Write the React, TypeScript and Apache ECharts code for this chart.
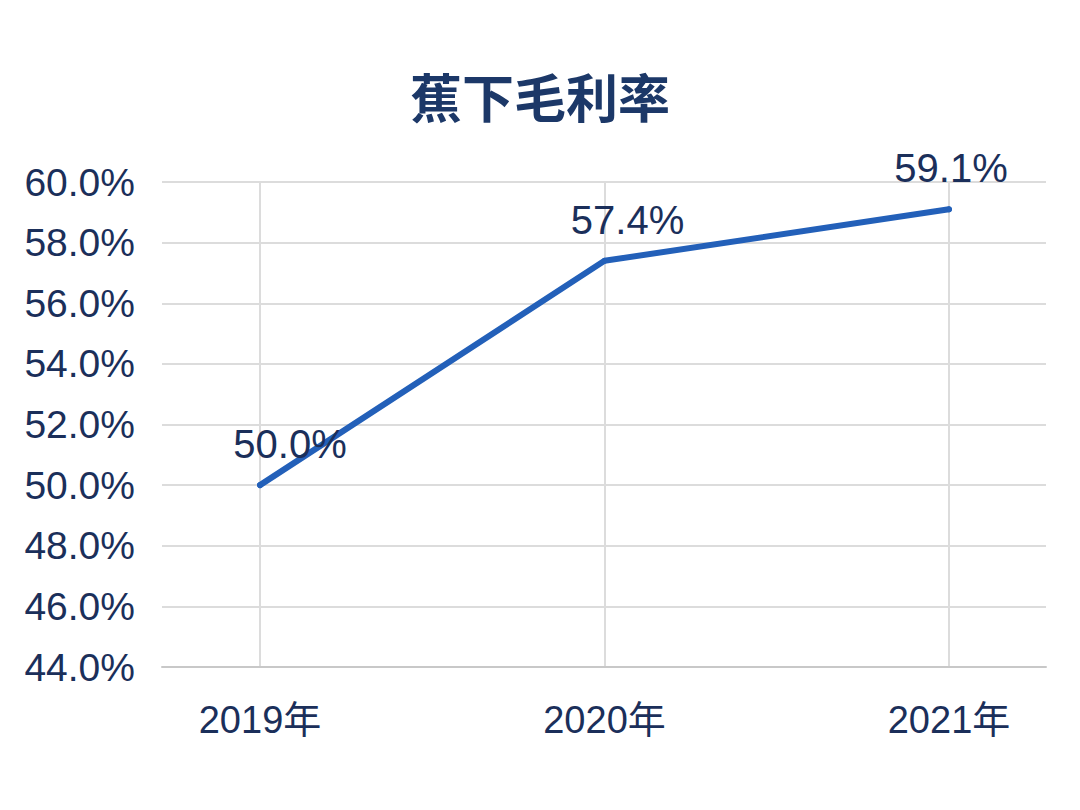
import React, { useEffect, useRef } from "react";
import * as echarts from "echarts";

const categories = ["2019年", "2020年", "2021年"];
const margins = [50.0, 57.4, 59.1];
const labelOffsetsX = [30, 23, 2];
const yMin = 44;
const yMax = 60;
const yStep = 2;

const TEXT = "#1b2f5a";

export default function App() {
  const ref = useRef<HTMLDivElement>(null);
  useEffect(() => {
    const chart = echarts.init(ref.current!, null, { renderer: "svg" });
    chart.setOption({
      animation: false,
      backgroundColor: "#ffffff",
      title: {
        text: "蕉下毛利率",
        left: "center",
        top: 64,
        textStyle: {
          fontSize: 52,
          fontWeight: "bold",
          color: "#1c3868",
          fontFamily: "Noto Sans CJK SC",
        },
      },
      grid: [
        { left: 162, right: 34, top: 182, bottom: 143 },
        { left: 260, right: 131, top: 182, bottom: 143 },
      ],
      xAxis: [
        {
          gridIndex: 0,
          type: "category",
          data: categories,
          axisLine: { show: true, lineStyle: { color: "#c8c8c8", width: 2 } },
          axisTick: { show: false },
          axisLabel: { show: false },
          splitLine: { show: false },
        },
        {
          gridIndex: 1,
          type: "category",
          data: categories,
          boundaryGap: false,
          axisLine: { show: false },
          axisTick: { show: false },
          splitLine: { show: true, lineStyle: { color: "#dcdcdc", width: 2 } },
          axisLabel: {
            margin: 34,
            fontSize: 38,
            color: TEXT,
            fontFamily: "Liberation Sans, Noto Sans CJK SC",
          },
        },
      ],
      yAxis: [
        {
          gridIndex: 0,
          type: "value",
          min: yMin,
          max: yMax,
          interval: yStep,
          axisLine: { show: false },
          axisTick: { show: false },
          splitLine: { show: true, lineStyle: { color: "#dcdcdc", width: 2 } },
          axisLabel: {
            margin: 27,
            fontSize: 39,
            color: TEXT,
            fontFamily: "Liberation Sans",
            formatter: (v: number) => v.toFixed(1) + "%",
          },
        },
        {
          gridIndex: 1,
          type: "value",
          min: yMin,
          max: yMax,
          interval: yStep,
          show: false,
        },
      ],
      series: [
        {
          type: "line",
          xAxisIndex: 1,
          yAxisIndex: 1,
          data: margins.map((v, i) => ({
            value: v,
            label: { offset: [labelOffsetsX[i], 0] },
          })),
          symbol: "circle",
          symbolSize: 6,
          itemStyle: { color: "#2360b9" },
          lineStyle: { color: "#2360b9", width: 6, cap: "round" },
          label: {
            show: true,
            position: "top",
            distance: 18,
            fontSize: 40,
            color: TEXT,
            fontFamily: "Liberation Sans",
            formatter: (p: any) => Number(p.value).toFixed(1) + "%",
          },
          z: 3,
        },
      ],
    });
    return () => chart.dispose();
  }, []);
  return (
    <div
      ref={ref}
      style={{ position: "fixed", left: 0, top: 0, width: 1080, height: 810 }}
    />
  );
}
